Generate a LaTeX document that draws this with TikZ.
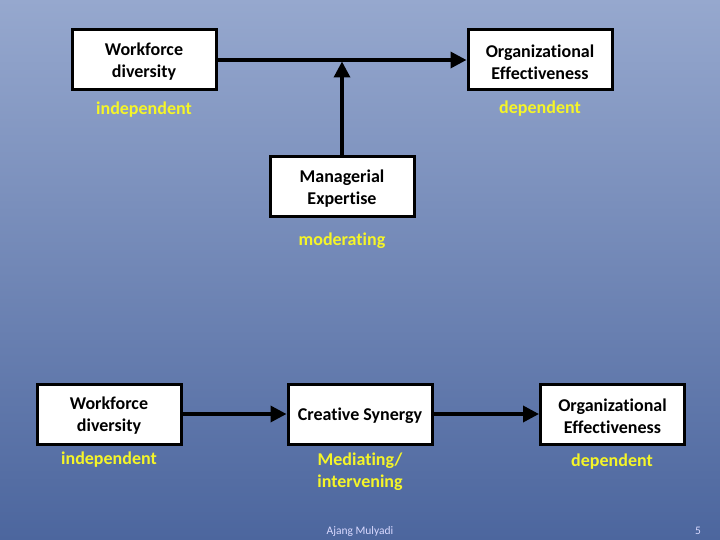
\documentclass[tikz,border=0pt]{standalone}
\usepackage{fontspec}
\setmainfont{Carlito}[Ligatures=NoCommon]
\usetikzlibrary{arrows.meta}
\definecolor{bgtop}{RGB}{150,168,206}
\definecolor{bgbot}{RGB}{76,102,158}
\definecolor{lbl}{RGB}{245,245,40}
\begin{document}
\begin{tikzpicture}[x=1pt,y=-1pt,
  box/.style={draw=black,line width=3pt,fill=white,minimum width=144pt,minimum height=60pt,inner sep=0pt},
  btxt/.style={align=center,inner sep=0pt,font=\fontsize{18}{22}\selectfont\bfseries},
  lab/.style={text=lbl,align=center,font=\fontsize{18}{22}\selectfont\bfseries},
  arr/.style={line width=3.5pt,-{Triangle[length=16pt,width=16pt]}},
  foot/.style={text=white!85!blue,font=\fontsize{11.5}{13}\selectfont}]
\shade[top color=bgtop,bottom color=bgbot] (0,0) rectangle (720,540);
\useasboundingbox (0,0) rectangle (720,540);
% top diagram
\node[box] (wd1) at (144,60) {};
\node[btxt] (wd1t) at (144,62) {Workforce\\diversity};
\node[box] (oe1) at (540,60) {};
\node[btxt] (oe1t) at (540,62) {Organizational\\Effectiveness};
\node[box] (me) at (342,186.5) {};
\node[btxt] (met) at (342,188.5) {Managerial\\Expertise};
\node[lab] (l1) at (144,110) {independent};
\node[lab] (l2) at (540,109) {dependent};
\node[lab] (l3) at (342,241) {moderating};
\coordinate (j) at (342,61.5);
\draw[arr] (wd1.east) -- (oe1.west);
\draw[arr] (me.north) -- (j);
% bottom diagram
\node[box] (wd2) at (109,414) {};
\node[btxt] (wd2t) at (109,416) {Workforce\\diversity};
\node[box] (cs) at (360,414) {};
\node[btxt] (cst) at (360,416) {Creative Synergy};
\node[box] (oe2) at (612.5,414) {};
\node[btxt] (oe2t) at (612.5,416) {Organizational\\Effectiveness};
\node[lab] (l4) at (109,460) {independent};
\node[lab] (l5) at (360,472) {Mediating/\\intervening};
\node[lab] (l6) at (612,462) {dependent};
\draw[arr] (wd2.east) -- (cs.west);
\draw[arr] (cs.east) -- (oe2.west);
% footer
\node[foot] (au) at (360,531) {Ajang Mulyadi};
\node[foot] (pg) at (698,531) {5};
\end{tikzpicture}
\end{document}
